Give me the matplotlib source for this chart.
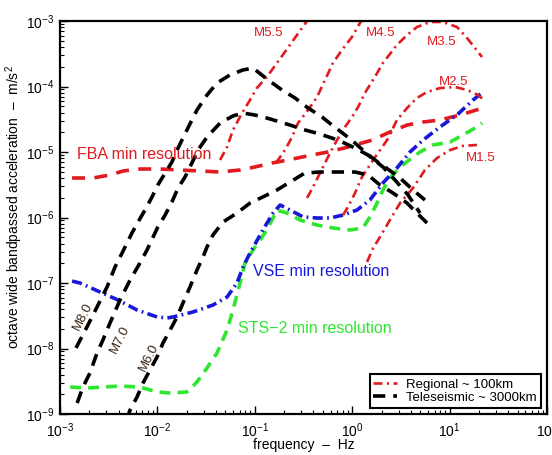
import matplotlib
matplotlib.use("Agg")
import matplotlib.pyplot as plt
import numpy as np

plt.rcParams['font.family'] = ['Liberation Sans', 'DejaVu Sans']
plt.rcParams['mathtext.fontset'] = 'custom'
plt.rcParams['mathtext.rm'] = 'Liberation Sans'
plt.rcParams['mathtext.it'] = 'Liberation Sans:italic'

# ---------------- data (Hz, m/s^2) ----------------
# Teleseismic ~3000 km
tele_m8_f = [1.46e-3, 1.89e-3, 2.40e-3, 3.04e-3, 3.67e-3, 4.34e-3, 5.48e-3, 6.32e-3, 7.46e-3, 8.81e-3,
             1.01e-2, 1.20e-2, 1.41e-2, 1.63e-2, 2.01e-2, 2.55e-2, 3.23e-2, 4.09e-2, 5.56e-2, 7.57e-2,
             9.60e-2, 0.137, 0.190, 0.259, 0.352, 0.490, 0.621, 0.844, 1.07, 1.35, 1.71, 2.17, 3.10, 4.21, 5.58]
tele_m8_a = [1.02e-8, 2.13e-8, 4.30e-8, 8.69e-8, 1.75e-7, 2.87e-7, 5.79e-7, 8.53e-7, 1.30e-6, 2.06e-6,
             3.13e-6, 4.78e-6, 7.03e-6, 1.15e-5, 2.17e-5, 4.38e-5, 7.41e-5, 1.13e-4, 1.50e-4, 1.79e-4,
             1.91e-4, 1.26e-4, 8.85e-5, 6.67e-5, 4.70e-5, 3.42e-5, 2.58e-5, 1.82e-5, 1.37e-5, 1.00e-5,
             7.55e-6, 5.90e-6, 4.01e-6, 2.63e-6, 1.85e-6]

tele_m7_f = [1.50e-3, 1.72e-3, 2.03e-3, 2.40e-3, 2.76e-3, 3.26e-3, 4.13e-3, 5.24e-3, 6.62e-3, 7.82e-3,
             1.01e-2, 1.20e-2, 1.41e-2, 1.63e-2, 1.92e-2, 2.26e-2, 2.61e-2, 3.23e-2, 4.40e-2, 5.97e-2,
             7.57e-2, 0.100, 0.133, 0.169, 0.230, 0.327, 0.467, 0.714, 1.07, 1.45, 2.07, 2.75, 3.74, 4.97]
tele_m7_a = [1.47e-9, 2.58e-9, 4.23e-9, 8.53e-9, 1.35e-8, 2.45e-8, 5.50e-8, 1.11e-7, 2.02e-7, 3.19e-7,
             7.16e-7, 1.09e-6, 1.73e-6, 2.82e-6, 4.15e-6, 6.79e-6, 1.07e-5, 1.69e-5, 2.77e-5, 3.55e-5,
             3.94e-5, 3.67e-5, 3.30e-5, 2.97e-5, 2.58e-5, 2.17e-5, 1.88e-5, 1.52e-5, 1.15e-5, 9.00e-6,
             5.90e-6, 3.74e-6, 2.21e-6, 1.17e-6]

tele_m6_f = [4.80e-3, 5.24e-3, 6.18e-3, 7.11e-3, 8.39e-3, 9.91e-3, 1.14e-2, 1.35e-2, 1.59e-2, 1.83e-2,
             2.16e-2, 2.55e-2, 2.94e-2, 3.23e-2, 3.72e-2, 4.72e-2, 6.56e-2, 8.93e-2, 0.121, 0.169,
             0.230, 0.327, 0.467, 0.714, 1.07, 1.45, 1.93, 2.62, 3.66, 4.62, 5.86]
tele_m6_a = [8.0e-10, 1.15e-9, 1.82e-9, 2.97e-9, 4.70e-9, 7.41e-9, 1.21e-8, 1.91e-8, 3.03e-8, 4.95e-8,
             8.69e-8, 1.58e-7, 2.49e-7, 3.55e-7, 5.41e-7, 8.53e-7, 1.17e-6, 1.66e-6, 2.06e-6, 2.63e-6,
             3.48e-6, 4.78e-6, 4.95e-6, 4.95e-6, 4.95e-6, 4.46e-6, 3.13e-6, 2.37e-6, 1.66e-6, 1.17e-6, 8.24e-7]

# Regional ~100 km
reg_m55_f = [4.40e-2, 5.19e-2, 5.97e-2, 7.40e-2, 8.93e-2, 0.105, 0.133, 0.169, 0.204, 0.271, 0.344, 0.396]
reg_m55_a = [7.55e-6, 1.19e-5, 2.17e-5, 3.94e-5, 6.22e-5, 9.48e-5, 1.40e-4, 2.29e-4, 3.37e-4, 6.11e-4, 1.0e-3, 1.37e-3]

reg_m45_f = [0.165, 0.204, 0.241, 0.278, 0.352, 0.436, 0.526, 0.635, 0.785, 0.995, 1.20, 1.39]
reg_m45_a = [6.79e-6, 1.07e-5, 1.69e-5, 2.77e-5, 4.38e-5, 6.92e-5, 1.26e-4, 2.29e-4, 3.61e-4, 5.70e-4, 9.31e-4, 1.28e-3]

reg_m35_f = [0.344, 0.396, 0.467, 0.592, 0.698, 0.844, 0.995, 1.15, 1.35, 1.71, 2.07, 2.88, 3.66, 4.62,
             6.30, 8.55, 11.9, 15.1, 18.2, 21.5]
reg_m35_a = [1.99e-6, 2.92e-6, 4.78e-6, 9.66e-6, 1.52e-5, 2.41e-5, 3.42e-5, 4.86e-5, 7.96e-5, 1.40e-4,
             2.29e-4, 4.31e-4, 6.11e-4, 8.09e-4, 9.66e-4, 9.66e-4, 8.09e-4, 5.50e-4, 3.87e-4, 2.82e-4]

reg_m25_f = [0.805, 0.906, 1.07, 1.26, 1.64, 2.28, 2.88, 3.66, 4.62, 5.86, 7.96, 11.4, 15.1, 19.6, 22.5]
reg_m25_a = [1.09e-6, 1.45e-6, 2.37e-6, 4.15e-6, 7.55e-6, 1.52e-5, 3.08e-5, 4.70e-5, 6.67e-5, 8.24e-5,
             9.48e-5, 9.82e-5, 8.85e-5, 7.41e-5, 6.22e-5]

reg_m15_f = [1.42, 1.64, 1.93, 2.44, 3.10, 4.21, 5.58, 7.43, 10.1, 13.7, 19.1]
reg_m15_a = [2.09e-7, 3.42e-7, 5.04e-7, 9.16e-7, 1.66e-6, 2.82e-6, 5.31e-6, 8.09e-6, 1.07e-5, 1.24e-5, 1.28e-5]

# Instrument minimum resolutions
fba_f = [1.33e-3, 2.18e-3, 3.26e-3, 4.44e-3, 6.62e-3, 1.06e-2, 1.71e-2, 2.74e-2, 4.40e-2, 7.05e-2,
         0.100, 0.150, 0.219, 0.386, 0.565, 0.906, 1.60, 2.44, 3.66, 5.33, 7.96, 12.8, 22.0]
fba_a = [4.01e-6, 4.01e-6, 4.46e-6, 5.13e-6, 5.50e-6, 5.50e-6, 5.31e-6, 5.13e-6, 4.95e-6, 5.31e-6,
         5.90e-6, 6.79e-6, 7.55e-6, 9.00e-6, 1.00e-5, 1.19e-5, 1.52e-5, 2.02e-5, 2.58e-5, 2.87e-5,
         3.08e-5, 3.67e-5, 4.70e-5]

vse_f = [1.33e-3, 1.60e-3, 2.58e-3, 3.94e-3, 6.18e-3, 9.91e-3, 1.26e-2, 1.45e-2, 2.32e-2, 3.72e-2,
         5.19e-2, 6.56e-2, 7.57e-2, 8.93e-2, 0.121, 0.154, 0.182, 0.230, 0.313, 0.436, 0.592, 0.805,
         1.12, 1.52, 2.07, 2.88, 3.92, 5.33, 7.96, 11.9, 17.4, 22.0]
vse_a = [1.07e-7, 1.00e-7, 7.29e-8, 5.50e-8, 3.87e-8, 3.03e-8, 2.92e-8, 3.03e-8, 3.61e-8, 4.61e-8,
         6.11e-8, 1.0e-7, 1.75e-7, 2.87e-7, 6.44e-7, 1.17e-6, 1.55e-6, 1.30e-6, 1.02e-6, 9.82e-7,
         9.82e-7, 1.09e-6, 1.30e-6, 1.85e-6, 3.37e-6, 5.70e-6, 1.0e-5, 1.52e-5, 2.41e-5, 3.67e-5,
         6.22e-5, 8.24e-5]

sts_f = [1.27e-3, 1.89e-3, 2.76e-3, 4.13e-3, 6.62e-3, 9.91e-3, 1.35e-2, 2.01e-2, 2.55e-2, 3.23e-2,
         4.09e-2, 5.19e-2, 5.97e-2, 7.05e-2, 7.93e-2, 9.60e-2, 0.133, 0.169, 0.214, 0.291, 0.436,
         0.635, 0.948, 1.29, 1.52, 1.80, 2.07, 2.44, 3.10, 4.21, 4.97, 6.76, 10.1, 13.7, 19.1, 21.5]
sts_a = [2.58e-9, 2.49e-9, 2.58e-9, 2.67e-9, 2.58e-9, 2.17e-9, 2.09e-9, 2.17e-9, 3.08e-9, 5.04e-9,
         8.53e-9, 1.91e-8, 3.87e-8, 1.0e-7, 2.02e-7, 3.19e-7, 6.44e-7, 1.30e-6, 1.17e-6, 9.16e-7,
         7.67e-7, 6.92e-7, 6.44e-7, 6.92e-7, 1.02e-6, 1.66e-6, 2.63e-6, 4.01e-6, 5.90e-6, 8.39e-6,
         1.0e-5, 1.28e-5, 1.42e-5, 1.82e-5, 2.41e-5, 2.77e-5]

tele_labels = ["M8.0", "M7.0", "M6.0"]
reg_labels = ["M5.5", "M4.5", "M3.5", "M2.5", "M1.5"]
legend_labels = ["Regional ~ 100km", "Teleseismic ~ 3000km"]

# ---------------- styles ----------------
RED = '#e01a1e'
BLUE = '#1818d8'
GREEN = '#2ee62e'
BROWN = '#3a2414'

fig = plt.figure(figsize=(5.52, 4.55), dpi=100)
ax = fig.add_axes([60/552, 1-414/455, 487/552, 393/455])
ax.set_xscale('log')
ax.set_yscale('log')
ax.set_xlim(1e-3, 1e2)
ax.set_ylim(1e-9, 1e-3)

tele_kw = dict(color='black', lw=2.6, dashes=(3.4, 2.2), dash_capstyle='butt')
reg_kw = dict(color=RED, lw=1.9, dashes=(3.4, 1.7, 0.8, 1.7), dash_capstyle='butt')

ax.plot(fba_f, fba_a, color=RED, lw=2.6, dashes=(3.6, 2.6), dash_capstyle='butt')
ax.plot(sts_f, sts_a, color=GREEN, lw=2.6, dashes=(3.0, 2.0), dash_capstyle='butt')
ax.plot(vse_f, vse_a, color=BLUE, lw=2.6, dashes=(2.8, 1.2, 0.5, 1.2), dash_capstyle='butt')

for f, a in [(reg_m55_f, reg_m55_a), (reg_m45_f, reg_m45_a), (reg_m35_f, reg_m35_a),
             (reg_m25_f, reg_m25_a), (reg_m15_f, reg_m15_a)]:
    ax.plot(f, a, **reg_kw)

for f, a in [(tele_m8_f, tele_m8_a), (tele_m7_f, tele_m7_a), (tele_m6_f, tele_m6_a)]:
    ax.plot(f, a, **tele_kw)

# text labels
ax.text(1.50e-3, 9.0e-6, "FBA min resolution", color=RED, fontsize=11.5, ha='left', va='center')
ax.text(0.096, 1.52e-7, "VSE min resolution", color=BLUE, fontsize=11.5, ha='left', va='center')
ax.text(0.0673, 1.99e-8, "STS\u22122 min resolution", color=GREEN, fontsize=11.5, ha='left', va='center')

reg_pos = [(0.140, 6.5e-4), (1.98, 6.5e-4), (8.36, 4.8e-4), (11.1, 1.18e-4), (21.0, 8.2e-6)]
for lab, (x, y) in zip(reg_labels, reg_pos):
    ax.text(x, y, lab, color=RED, fontsize=9.5, ha='center', va='center')

tele_pos = [(1.72e-3, 3.13e-8), (4.13e-3, 1.35e-8), (8.20e-3, 7.41e-9)]
for lab, (x, y) in zip(tele_labels, tele_pos):
    ax.text(x, y, lab, color=BROWN, fontsize=9.5, ha='center', va='center', rotation=63)

# legend
from matplotlib.lines import Line2D
h1 = Line2D([], [], **reg_kw)
h2 = Line2D([], [], **tele_kw)
leg = ax.legend([h1, h2], legend_labels, loc='lower right', fontsize=9.5, frameon=True,
                fancybox=False, framealpha=1, edgecolor='black', handlelength=1.8,
                handletextpad=0.7, labelspacing=0.1, borderpad=0.3, borderaxespad=0.45)
leg.get_frame().set_linewidth(1.5)

# axes styling
for s in ax.spines.values():
    s.set_linewidth(1.6)
ax.tick_params(which='both', direction='in', top=False, right=False, labelsize=10)
ax.tick_params(which='major', length=6, width=1.0, pad=5)
ax.tick_params(which='minor', length=3, width=0.8)
ax.tick_params(axis='y', which='major', pad=4)
ax.set_xlabel("frequency  \u2013  Hz", fontsize=10, labelpad=-1)
ax.set_ylabel("octave wide bandpassed acceleration  \u2013  m/s$^2$", fontsize=10)
ax.yaxis.set_label_coords((25 - 60) / 487, (414 - 207) / 393)

fig.savefig("out.png", dpi=100)
